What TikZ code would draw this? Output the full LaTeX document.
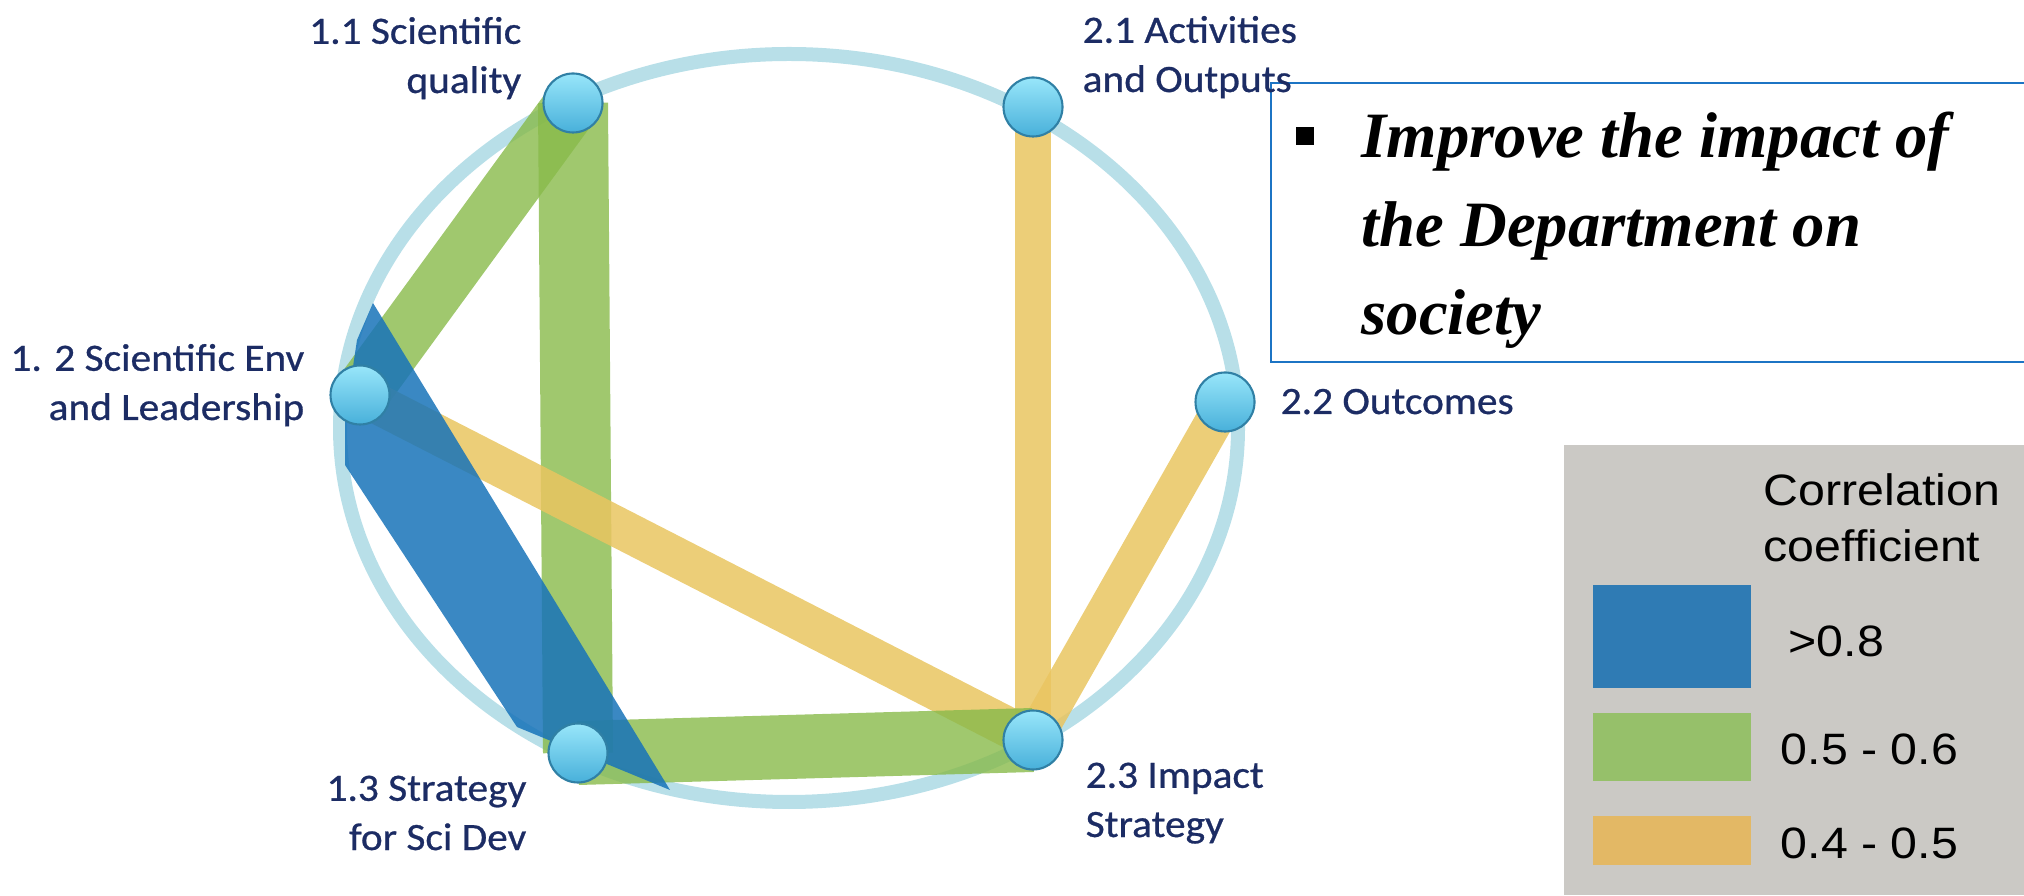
\documentclass[tikz,border=0pt]{standalone}
\usepackage{fontspec}
\usetikzlibrary{backgrounds}
\setmainfont{Carlito}
\newfontfamily\labelfont[FakeStretch=1.07,FakeBold=0.7]{Carlito}
\newfontfamily\notefont{Liberation Serif}
\newfontfamily\keyfont[FakeStretch=1.1]{Liberation Sans}

\definecolor{ringblue}{RGB}{184,223,232}
\definecolor{bandgreen}{RGB}{136,186,74}
\definecolor{bandyellow}{RGB}{233,197,96}
\definecolor{bandblue}{RGB}{23,115,185}
\definecolor{dotlight}{RGB}{152,230,250}
\definecolor{dotdark}{RGB}{72,176,218}
\definecolor{dotedge}{RGB}{48,128,165}
\definecolor{labelnavy}{RGB}{28,44,100}
\definecolor{frameblue}{RGB}{28,116,196}
\definecolor{keygray}{RGB}{203,201,197}
\definecolor{keyblue}{RGB}{47,123,180}
\definecolor{keygreen}{RGB}{150,192,106}
\definecolor{keyorange}{RGB}{227,184,101}

\begin{document}
\begin{tikzpicture}[
    dot/.style={circle,draw=dotedge,semithick,top color=dotlight,bottom color=dotdark,
      minimum size=0.59cm,inner sep=0pt},
    crit/.style={labelnavy,inner sep=0pt,font=\labelfont\fontsize{11}{14}\selectfont},
    greenband/.style={draw=bandgreen,draw opacity=0.8},
    yellowband/.style={draw=bandyellow,draw opacity=0.85},
    blueband/.style={fill=bandblue,fill opacity=0.85},
    note/.style={inner sep=0pt,align=left,
      font=\notefont\bfseries\itshape\fontsize{18.4}{25.2}\selectfont},
    key/.style={inner sep=0pt,font=\keyfont\fontsize{12.5}{16.2}\selectfont}
  ]

  \path[use as bounding box] (0,0) rectangle (20.24,8.95);

  % Criteria nodes
  \node[dot] (n11) at (5.73,7.92) {};
  \node[dot] (n21) at (10.33,7.88) {};
  \node[dot] (n12) at (3.60,5.00) {};
  \node[dot] (n22) at (12.25,4.93) {};
  \node[dot] (n13) at (5.78,1.42) {};
  \node[dot] (n23) at (10.33,1.55) {};

  \begin{pgfonlayer}{background}
    % Ring
    \draw[ringblue,line width=0.14cm] (7.89,4.67) ellipse (4.49 and 3.74);

    % Correlations 0.5 - 0.6
    \draw[greenband,line width=0.56cm] (n11.center) -- (n12.center);
    \draw[greenband,line width=0.70cm] (n11.center) -- (n13.center);

    % Correlations 0.4 - 0.5
    \draw[yellowband,line width=0.40cm] (n12.center) -- (n23.center);
    \draw[yellowband,line width=0.36cm] (n21.center) -- (n23.center);
    \draw[yellowband,line width=0.38cm] (n22.center) -- (n23.center);

    \draw[greenband,line width=0.64cm] (n13.center) -- (n23.center);

    % Correlation >0.8
    \fill[blueband] ([shift={(0.13,0.92)}]n12.center) -- ([shift={(0.92,-0.37)}]n13.center)
      -- ([shift={(-0.61,0.26)}]n13.center) -- ([shift={(-0.15,-0.70)}]n12.center)
      -- ([shift={(-0.15,-0.25)}]n12.center) -- ([shift={(-0.03,0.55)}]n12.center) -- cycle;
  \end{pgfonlayer}

  % Note box
  \draw[frameblue,line width=0.6pt] (20.24,8.12) -| (12.71,5.33) -- (20.24,5.33);
  \fill (12.96,7.50) rectangle (13.14,7.68);
  \node[note,anchor=base west] (aim) at (13.61,5.60)
    {Improve the impact of\\the Department on\\society};

  % Criteria labels
  \node[crit,anchor=base east,align=right] (t11) at (5.22,8.02) {1.1 Scientific\\quality};
  \node[crit,anchor=base west,align=left] (t21) at (10.82,8.03) {2.1 Activities\\and Outputs};
  \node[crit,anchor=base east,align=right] (t12) at (3.05,4.75) {1. 2 Scientific Env\\and Leadership};
  \node[crit,anchor=base west] (t22) at (12.80,4.81) {2.2 Outcomes};
  \node[crit,anchor=base east,align=right] (t13) at (5.27,0.45) {1.3 Strategy\\for Sci Dev};
  \node[crit,anchor=base west,align=left] (t23) at (10.85,0.58) {2.3 Impact\\Strategy};

  % Legend
  \fill[keygray] (15.64,0) rectangle (20.24,4.50);
  \node[key,anchor=base west,align=left] (keytitle) at (17.63,3.33) {Correlation\\coefficient};
  \fill[keyblue] (15.93,2.07) rectangle (17.51,3.10);
  \fill[keygreen] (15.93,1.14) rectangle (17.51,1.82);
  \fill[keyorange] (15.93,0.30) rectangle (17.51,0.79);
  \node[key,anchor=base west] (k1) at (17.88,2.38) {>0.8};
  \node[key,anchor=base west] (k2) at (17.80,1.30) {0.5 - 0.6};
  \node[key,anchor=base west] (k3) at (17.80,0.37) {0.4 - 0.5};

\end{tikzpicture}
\end{document}
